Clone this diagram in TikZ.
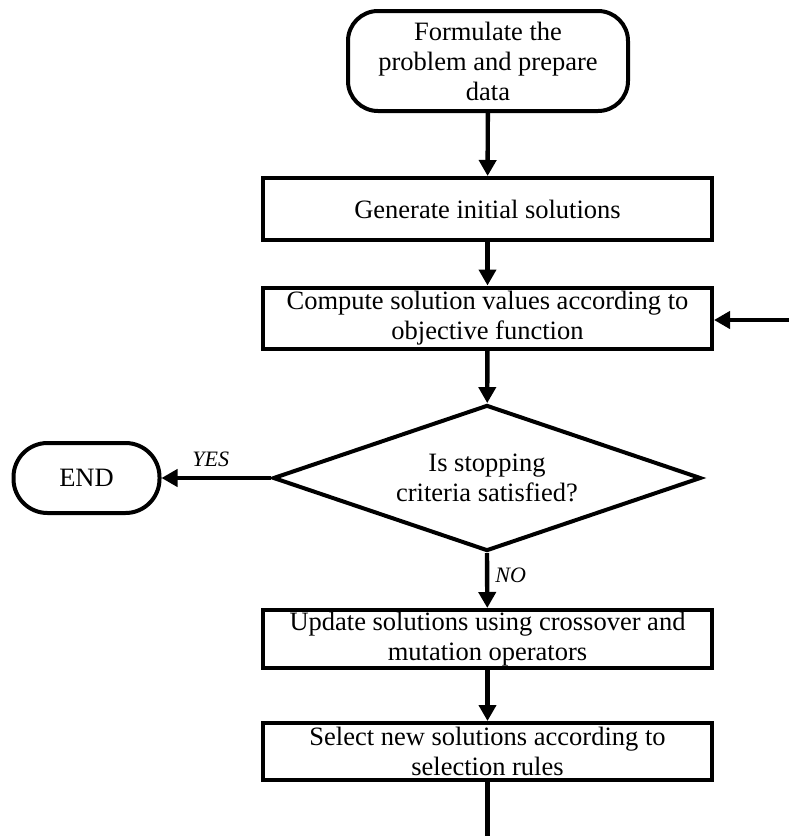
\documentclass[tikz,border=0pt]{standalone}
\usepackage{fontspec}
\setmainfont{Liberation Serif}
\usetikzlibrary{arrows.meta,shapes.geometric}
\begin{document}
\begin{tikzpicture}[x=1pt,y=-1pt,
  every node/.style={font=\fontsize{26.5}{30}\selectfont, align=center, inner sep=0pt},
  procbox/.style={draw, line width=4pt, minimum width=449pt},
  termbox/.style={draw, line width=4pt, rounded corners=30pt},
  flow/.style={line width=4.4pt, -{Triangle[length=16pt,width=17pt]}},
  lbl/.style={font=\fontsize{22}{24}\selectfont\itshape}]
\useasboundingbox (0,0) rectangle (789,836);

\node[termbox, minimum width=280pt, minimum height=100pt] (start) at (488,61) {Formulate the\\problem and prepare\\data};
\node[procbox, minimum height=62pt] (gen) at (487.5,209) {Generate initial solutions};
\node[procbox, minimum height=61pt] (comp) at (487.5,318) {Compute solution values according to\\objective function};
\node[draw, diamond, aspect=2.93, line width=4pt, minimum width=428pt, minimum height=146pt] (dec) at (487,478) {Is stopping\\criteria satisfied?};
\node[termbox, rounded corners=34pt, minimum width=146pt, minimum height=70pt] (end) at (86.5,478) {END};
\node[procbox, minimum height=58pt] (upd) at (487.5,639) {Update solutions using crossover and\\mutation operators};
\node[procbox, minimum height=57pt] (sel) at (487.5,751.5) {Select new solutions according to\\selection rules};

\coordinate (loopin) at (789,320);
\coordinate (loopout) at (487.5,836);

\draw[flow] (start) -- (gen);
\draw[flow] (gen) -- (comp);
\draw[flow] (comp) -- (dec);
\draw[flow] (dec.west) -- node[lbl, above=9pt, pos=0.55] {YES} (end);
\draw[flow] (dec.south) -- node[lbl, right=6pt, pos=0.4] {NO} (upd);
\draw[flow] (upd) -- (sel);
\draw[line width=4.4pt] (sel) -- (loopout);
\draw[flow] (loopin) -- (comp.east |- loopin);
\end{tikzpicture}
\end{document}
